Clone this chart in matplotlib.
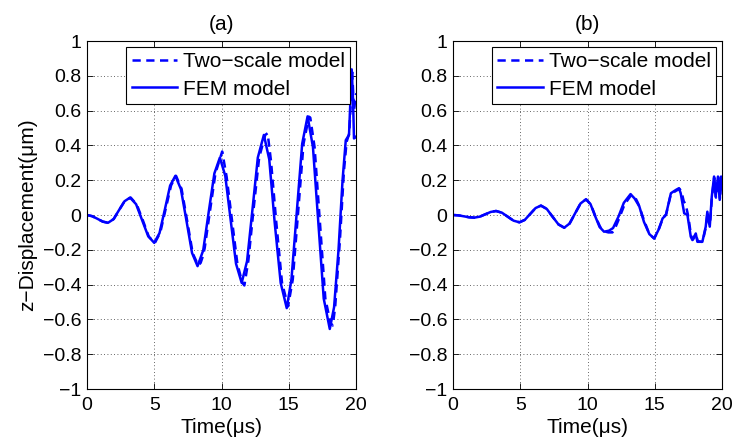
import matplotlib
matplotlib.use('Agg')
import matplotlib.pyplot as plt

blue = '#0000FF'

# (a) FEM model
t_fem_a = [0, 0.39, 0.78, 1.17, 1.56, 1.97, 2.38, 2.79, 3.2, 3.65, 4.1, 4.55,
           5.0, 5.39, 5.79, 6.18, 6.57, 6.98, 7.4, 7.81, 8.22, 8.64, 9.05, 9.47,
           9.88, 10.28, 10.68, 11.08, 11.5, 11.9, 12.3, 12.7, 13.15, 13.55, 13.95,
           14.4, 14.85, 15.2, 15.6, 16.0, 16.4, 16.8, 17.2, 17.6, 18.05, 18.37,
           18.7, 19.0, 19.24, 19.48, 19.68, 19.78, 19.85, 20.0]
y_fem_a = [0, -0.007, -0.022, -0.038, -0.045, -0.024, 0.028, 0.079, 0.10, 0.062,
           -0.03, -0.122, -0.16, -0.104, 0.032, 0.169, 0.225, 0.149, -0.035,
           -0.218, -0.294, -0.203, 0.018, 0.239, 0.33, 0.225, -0.028, -0.28,
           -0.39, -0.265, 0.03, 0.33, 0.46, 0.32, -0.04, -0.39, -0.535, -0.37,
           0.02, 0.41, 0.567, 0.39, -0.045, -0.48, -0.655, -0.53, -0.2, 0.2,
           0.43, 0.46, 0.837, 0.66, 0.44, 0.45]

# (a) two-scale model
t_two_a = [0, 0.39, 0.78, 1.17, 1.6, 2.0, 2.4, 2.8, 3.25, 3.7, 4.15, 4.6, 5.05,
           5.45, 5.85, 6.25, 6.62, 7.03, 7.45, 7.86, 8.27, 8.45, 8.6, 8.75, 9.1,
           9.55, 9.95, 10.05, 10.38, 10.78, 11.18, 11.55, 11.7, 12.0, 12.38,
           12.8, 13.25, 13.43, 13.68, 14.07, 14.5, 14.95, 15.3, 15.7, 16.1, 16.5,
           16.6, 16.92, 17.32, 17.72, 18.1, 18.27, 18.45, 18.8, 19.1, 19.3, 19.5,
           19.72, 19.85, 20.0]
y_two_a = [0, -0.007, -0.022, -0.038, -0.045, -0.022, 0.03, 0.08, 0.10, 0.06,
           -0.03, -0.125, -0.16, -0.10, 0.035, 0.17, 0.225, 0.15, -0.035, -0.22,
           -0.29, -0.275, -0.24, -0.19, 0.0, 0.24, 0.34, 0.365, 0.22, -0.03,
           -0.28, -0.39, -0.405, -0.26, 0.03, 0.33, 0.46, 0.47, 0.31, -0.04,
           -0.39, -0.525, -0.37, 0.02, 0.41, 0.565, 0.56, 0.39, -0.045, -0.48,
           -0.62, -0.635, -0.53, -0.15, 0.25, 0.42, 0.47, 0.82, 0.6, 0.7]

# (b) FEM model
t_fem_b = [0, 0.4, 0.8, 1.2, 1.6, 2.0, 2.4, 2.8, 3.2, 3.63, 4.07, 4.5, 4.94,
           5.34, 5.74, 6.14, 6.54, 6.97, 7.4, 7.84, 8.27, 8.67, 9.07, 9.48, 9.88,
           10.22, 10.55, 10.9, 11.23, 11.6, 11.9, 12.3, 12.7, 13.2, 13.5, 13.85,
           14.2, 14.6, 14.96, 15.33, 15.58, 15.83, 16.2, 16.57, 16.8, 16.93,
           17.06, 17.19, 17.43, 17.68, 17.8, 18.05, 18.17, 18.54, 18.79, 18.91,
           19.09, 19.24, 19.41, 19.53, 19.7, 19.83, 19.93, 20.0]
y_fem_b = [0, -0.002, -0.0075, -0.013, -0.015, -0.0094, 0.004, 0.0174, 0.023,
           0.0135, -0.0095, -0.0325, -0.042, -0.028, 0.006, 0.04, 0.054, 0.035,
           -0.0095, -0.054, -0.073, -0.049, 0.0085, 0.066, 0.09, 0.063, -0.003,
           -0.069, -0.096, -0.09, -0.075, -0.01, 0.07, 0.12, 0.095, 0.05, -0.04,
           -0.11, -0.135, -0.077, -0.02, 0.0, 0.125, 0.144, 0.154, 0.125, 0.067,
           0.01, 0.0, -0.125, -0.144, -0.106, -0.154, -0.154, -0.067, 0.019,
           -0.067, 0.106, 0.221, 0.106, 0.221, 0.087, 0.221, 0.15]

# (b) two-scale model
t_two_b = [0, 0.4, 0.8, 1.2, 1.6, 2.0, 2.4, 2.8, 3.2, 3.63, 4.07, 4.5, 4.94,
           5.34, 5.74, 6.14, 6.54, 6.97, 7.4, 7.84, 8.27, 8.67, 9.07, 9.48, 9.9,
           10.25, 10.6, 10.95, 11.3, 11.55, 11.85, 12.0, 12.35, 12.75, 13.25,
           13.55, 13.7, 13.8, 14.2, 14.6, 14.96, 15.3, 15.45, 15.6, 15.85, 16.2,
           16.6, 16.85, 17.0, 17.15, 17.3, 17.5, 17.7, 17.85, 18.05, 18.2, 18.55,
           18.8, 18.92, 19.1, 19.25, 19.42, 19.55, 19.72, 19.85, 19.95, 20.0]
y_two_b = [0, -0.002, -0.0075, -0.013, -0.015, -0.009, 0.004, 0.017, 0.023,
           0.013, -0.01, -0.033, -0.042, -0.028, 0.006, 0.04, 0.054, 0.035,
           -0.01, -0.054, -0.073, -0.049, 0.008, 0.066, 0.09, 0.06, -0.01,
           -0.07, -0.095, -0.1, -0.1, -0.085, -0.02, 0.06, 0.115, 0.1, 0.077,
           0.06, -0.03, -0.11, -0.135, -0.08, -0.05, -0.02, 0.005, 0.12, 0.14,
           0.15, 0.13, 0.08, 0.06, -0.01, -0.12, -0.14, -0.11, -0.15, -0.155,
           -0.07, 0.01, -0.06, 0.1, 0.215, 0.1, 0.215, 0.09, 0.215, 0.15]

x_ticks = [0, 5, 10, 15, 20]
y_ticks = [-1, -0.8, -0.6, -0.4, -0.2, 0, 0.2, 0.4, 0.6, 0.8, 1]
y_tick_labels = ['\u22121', '\u22120.8', '\u22120.6', '\u22120.4', '\u22120.2',
                 '0', '0.2', '0.4', '0.6', '0.8', '1']
titles = ['(a)', '(b)']
legend_labels = ['Two\u2212scale model', 'FEM model']

plt.rcParams['font.family'] = ['Liberation Sans', 'DejaVu Sans']
plt.rcParams['font.size'] = 14

fig = plt.figure(figsize=(7.36, 4.44), dpi=100)
ax_a = fig.add_axes([87 / 736, 1 - 389 / 444, 269 / 736, 348 / 444])
ax_b = fig.add_axes([453 / 736, 1 - 389 / 444, 269 / 736, 348 / 444])

series = [(t_two_a, y_two_a, t_fem_a, y_fem_a),
          (t_two_b, y_two_b, t_fem_b, y_fem_b)]

for ax, title, (t2, y2, tf, yf) in zip([ax_a, ax_b], titles, series):
    ax.plot(t2, y2, color=blue, linewidth=1.8, linestyle=(0, (3.3, 2.2)),
            label=legend_labels[0])
    ax.plot(tf, yf, color=blue, linewidth=1.8, label=legend_labels[1])
    ax.set_xlim(0, 20)
    ax.set_ylim(-1, 1)
    ax.set_xticks(x_ticks)
    ax.set_yticks(y_ticks)
    ax.set_yticklabels(y_tick_labels)
    ax.tick_params(direction='in', top=True, right=True, length=4,
                   width=0.6, labelsize=14)
    ax.tick_params(axis='x', pad=5.5)
    ax.tick_params(axis='y', pad=4)
    ax.grid(True, color='0.2', linestyle=(0, (1, 3)), linewidth=0.6)
    for s in ax.spines.values():
        s.set_linewidth(0.8)
    ax.set_title(title, fontsize=15, pad=8)
    ax.set_xlabel('Time(\u03bcs)', fontsize=15, labelpad=3)
    leg = ax.legend(loc='upper right', fontsize=15, frameon=True,
                    fancybox=False, framealpha=1, edgecolor='black',
                    borderaxespad=0.3, handlelength=2.2, labelspacing=0.4,
                    borderpad=0.25, handletextpad=0.25)
    leg.get_frame().set_linewidth(0.8)

ax_a.set_ylabel('z\u2212Displacement(\u03bcm)', fontsize=15, labelpad=4)

plt.savefig('out.png', dpi=100)
